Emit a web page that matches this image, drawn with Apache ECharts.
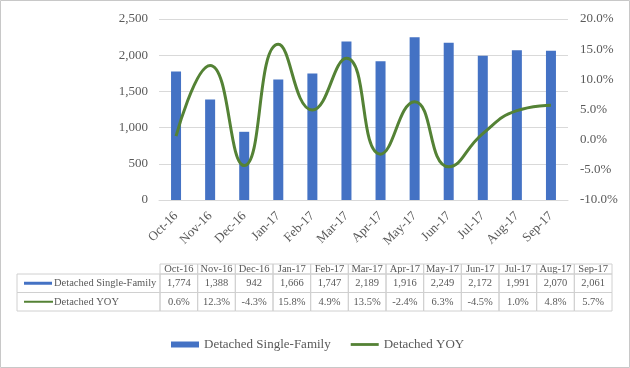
<!DOCTYPE html>
<html><head><meta charset="utf-8">
<script src="https://cdn.jsdelivr.net/npm/echarts@6/dist/echarts.min.js"></script>
<style>html,body{margin:0;padding:0;background:#fff}#c{width:630px;height:368px}</style>
</head><body><div id="c"></div>
<script>
const categories = ['Oct-16','Nov-16','Dec-16','Jan-17','Feb-17','Mar-17','Apr-17','May-17','Jun-17','Jul-17','Aug-17','Sep-17'];
const familyValues = [1774,1388,942,1666,1747,2189,1916,2249,2172,1991,2070,2061];
const yoyValues = [0.6,12.3,-4.3,15.8,4.9,13.5,-2.4,6.3,-4.5,1.0,4.8,5.7];
const seriesNames = ['Detached Single-Family','Detached YOY'];

const FONT = "'Liberation Serif','Times New Roman',serif";
const TXT = '#595959';
const BLUE = '#4472C4';
const GREEN = '#548235';
const BORDER = '#d0d0d0';

// table layout
const T = {left:17, labelRight:160, right:612, top:264, headH:10, rowH:18.5};
const colW = (T.right - T.labelRight) / categories.length;
const fmtNum = v => v.toLocaleString('en-US');
const fmtPct = v => v.toFixed(1) + '%';
const rows = [familyValues.map(fmtNum), yoyValues.map(fmtPct)];
const TF = '10.5px ' + FONT;

const g = [];
g.push({type:'rect', shape:{x:0.5,y:0.5,width:629,height:367}, style:{fill:'none',stroke:'#c8c8c8',lineWidth:1}, silent:true});
categories.forEach((c,i)=>{
  const x = T.labelRight + i*colW;
  g.push({type:'rect', shape:{x:x,y:T.top,width:colW,height:T.headH}, style:{fill:'none',stroke:BORDER,lineWidth:1}});
  g.push({type:'text', x:x+colW/2, y:T.top+T.headH/2, style:{text:c,fill:TXT,font:TF,align:'center',verticalAlign:'middle'}});
});
rows.forEach((r,ri)=>{
  const y = T.top + T.headH + ri*T.rowH;
  g.push({type:'rect', shape:{x:T.left,y:y,width:T.labelRight-T.left,height:T.rowH}, style:{fill:'none',stroke:BORDER,lineWidth:1}});
  g.push({type:'rect', shape:{x:24,y:y+T.rowH/2-(ri===0?1.5:1),width:ri===0?28:29,height:ri===0?3:2}, style:{fill:ri===0?BLUE:GREEN}});
  g.push({type:'text', x:54, y:y+T.rowH/2, style:{text:seriesNames[ri],fill:TXT,font:TF,align:'left',verticalAlign:'middle'}});
  r.forEach((v,i)=>{
    const x = T.labelRight + i*colW;
    g.push({type:'rect', shape:{x:x,y:y,width:colW,height:T.rowH}, style:{fill:'none',stroke:BORDER,lineWidth:1}});
    g.push({type:'text', x:x+colW/2, y:y+T.rowH/2, style:{text:v,fill:TXT,font:TF,align:'center',verticalAlign:'middle'}});
  });
});

const chart = echarts.init(document.getElementById('c'), null, {renderer:'canvas'});
chart.setOption({
  animation:false,
  backgroundColor:'#fff',
  textStyle:{fontFamily:FONT},
  grid:{left:159,right:62,top:19,bottom:168,containLabel:false},
  legend:{
    left:171, top:338, padding:0, itemWidth:28, itemHeight:6, itemGap:20, symbolKeepAspect:true,
    textStyle:{fontSize:13,color:TXT,fontFamily:FONT},
    data:[{name:seriesNames[0],icon:'rect'},{name:seriesNames[1],icon:'path://M0,0H30V3H0Z'}]
  },
  xAxis:{
    type:'category', data:categories,
    axisLine:{lineStyle:{color:'#d9d9d9'}}, axisTick:{show:false},
    axisLabel:{rotate:45,fontSize:13,color:TXT,fontFamily:FONT,margin:14,interval:0}
  },
  yAxis:[
    {type:'value',min:0,max:2500,interval:500,
     axisLabel:{fontSize:13,color:TXT,fontFamily:FONT,margin:11,formatter:v=>fmtNum(v)},
     splitLine:{lineStyle:{color:'#d9d9d9'}},axisLine:{show:false},axisTick:{show:false}},
    {type:'value',min:-10,max:20,interval:5,position:'right',
     axisLabel:{fontSize:13,color:TXT,fontFamily:FONT,margin:12,formatter:v=>fmtPct(v)},
     splitLine:{show:false},axisLine:{show:false},axisTick:{show:false}}
  ],
  series:[
    {name:seriesNames[0],type:'bar',yAxisIndex:0,data:familyValues,barWidth:10,itemStyle:{color:BLUE}},
    {name:seriesNames[1],type:'line',yAxisIndex:1,data:yoyValues,smooth:0.5,symbol:'none',
     lineStyle:{color:GREEN,width:3},itemStyle:{color:GREEN}}
  ],
  graphic:g
});
</script></body></html>
